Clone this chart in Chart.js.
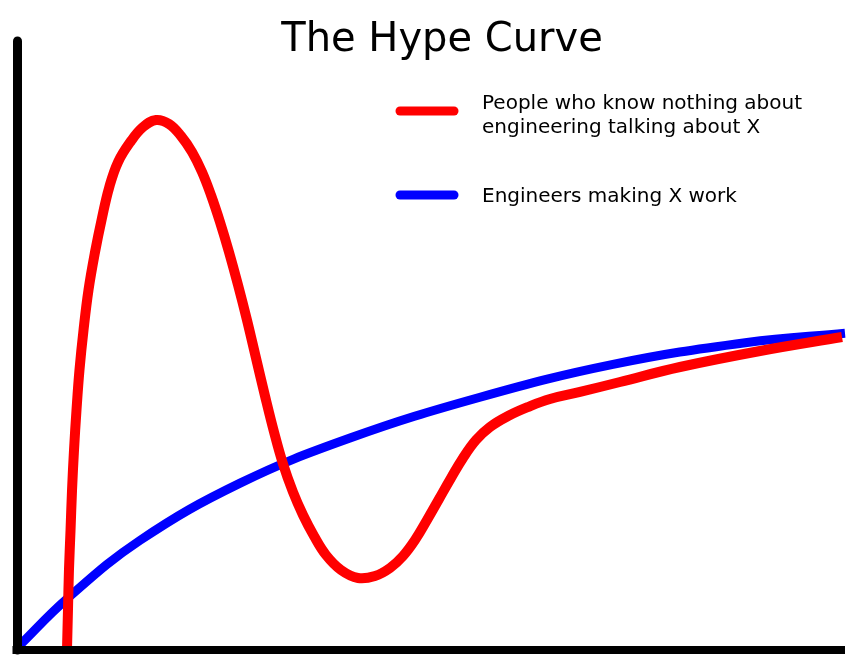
<!DOCTYPE html>
<html>
<head>
<meta charset="utf-8">
<title>The Hype Curve</title>
<script src="https://cdn.jsdelivr.net/npm/chart.js@4"></script>
<style>
  body { margin: 0; background: #fff; }
  canvas { display: block; }
</style>
</head>
<body>
<canvas id="hypeChart" width="854" height="672"></canvas>
<script>
// values (x and y both on a 0-100 scale)
const chartTitle = "The Hype Curve";

const hypeLabel = ["People who know nothing about", "engineering talking about X"];
const hypeX = [5.98, 6.10, 6.22, 6.41, 6.59, 6.83, 7.13, 7.49, 7.98, 8.58, 9.37, 10.21, 11.06, 12.15, 13.72, 15.17,
    16.74, 18.31, 19.76, 21.09, 22.30, 23.38, 24.47, 25.56, 26.65, 27.73, 28.82, 29.91, 31.00, 32.09, 33.29, 34.50,
    35.83, 37.28, 39.09, 41.15, 43.20, 45.02, 46.59, 48.04, 49.49, 50.94, 52.39, 53.84, 55.41, 57.10, 59.28, 61.69,
    64.35, 67.98, 72.81, 80.06, 89.73, 99.64];
const hypeY = [0, 6.57, 13.14, 19.70, 26.27, 32.84, 39.41, 45.98, 52.55, 59.11, 65.35, 70.94, 75.86, 80.13, 83.58, 85.88,
    87.03, 86.37, 84.40, 81.77, 78.49, 74.71, 70.28, 65.35, 59.93, 54.19, 47.95, 41.71, 35.80, 30.54, 25.94, 22.17,
    18.72, 15.60, 13.14, 11.82, 12.15, 13.47, 15.44, 18.06, 21.35, 24.80, 28.24, 31.53, 34.48, 36.62, 38.42, 39.90,
    41.22, 42.37, 44.01, 46.47, 49.10, 51.40];

const engLabel = ["Engineers making X work"];
const engX = [0.18, 5.98, 14.8, 26.9, 40.18, 55.89, 71.96, 88.16, 100];
const engY = [0.66, 8.4, 18.0, 27.4, 34.8, 41.5, 46.9, 50.5, 52.0];

function toPoints(xs, ys) {
    return xs.map((x, i) => ({ x: x, y: ys[i] }));
}

// title, hand drawn axes and legend, drawn on top of the curves
const hypeDecorations = {
    id: "hypeDecorations",
    afterDatasetsDraw(chart) {
        const ctx = chart.ctx;
        const xs = chart.scales.x;
        const ys = chart.scales.y;
        ctx.save();

        // axes
        ctx.strokeStyle = "#000";
        ctx.lineCap = "round";
        ctx.lineWidth = 9;
        ctx.beginPath();
        ctx.moveTo(xs.getPixelForValue(0), ys.getPixelForValue(100));
        ctx.lineTo(xs.getPixelForValue(0), ys.getPixelForValue(0));
        ctx.stroke();
        ctx.lineCap = "butt";
        ctx.lineWidth = 8;
        ctx.beginPath();
        ctx.moveTo(xs.getPixelForValue(0) - 5, ys.getPixelForValue(0));
        ctx.lineTo(xs.getPixelForValue(100), ys.getPixelForValue(0));
        ctx.stroke();

        // title
        ctx.fillStyle = "#000";
        ctx.textAlign = "center";
        ctx.textBaseline = "alphabetic";
        ctx.font = "40px 'DejaVu Sans'";
        ctx.fillText(chartTitle, 442, 51);

        // legend
        const entries = [
            { color: chart.data.datasets[0].borderColor, text: hypeLabel, lineY: 111, textY: 109 },
            { color: chart.data.datasets[1].borderColor, text: engLabel, lineY: 195, textY: 202 }
        ];
        ctx.font = "20px 'DejaVu Sans'";
        ctx.textAlign = "left";
        entries.forEach(e => {
            ctx.strokeStyle = e.color;
            ctx.lineWidth = 9;
            ctx.lineCap = "round";
            ctx.beginPath();
            ctx.moveTo(400, e.lineY);
            ctx.lineTo(454, e.lineY);
            ctx.stroke();
            e.text.forEach((line, i) => {
                ctx.fillText(line, 482, e.textY + i * 24);
            });
        });
        ctx.restore();
    }
};

const ctx = document.getElementById("hypeChart").getContext("2d");
const chartObject = new Chart(ctx, {
    type: "line",
    data: {
        datasets: [
            {
                label: hypeLabel.join(" "),
                data: toPoints(hypeX, hypeY),
                borderColor: "#ff0000",
                borderWidth: 10,
                pointRadius: 0,
                tension: 0.4,
                borderJoinStyle: "round",
                fill: false,
                clip: false
            },
            {
                label: engLabel[0],
                data: toPoints(engX, engY),
                borderColor: "#0000ff",
                borderWidth: 9,
                pointRadius: 0,
                tension: 0.4,
                borderJoinStyle: "round",
                fill: false,
                clip: false
            }
        ]
    },
    options: {
        responsive: false,
        animation: false,
        layout: {
            padding: { left: 17.5, right: 9, top: 41, bottom: 22 }
        },
        plugins: {
            legend: { display: false },
            title: { display: false },
            tooltip: { enabled: false }
        },
        scales: {
            x: { type: "linear", min: 0, max: 100, display: false },
            y: { type: "linear", min: 0, max: 100, display: false }
        }
    },
    plugins: [hypeDecorations]
});
</script>
</body>
</html>
